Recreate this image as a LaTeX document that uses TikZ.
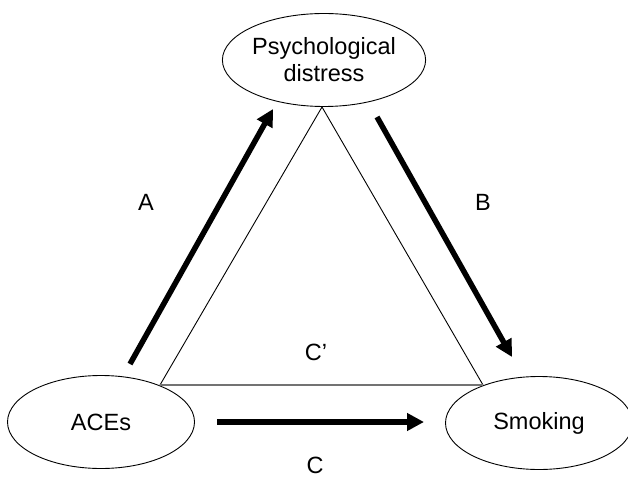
\documentclass[tikz,border=0pt]{standalone}
\usepackage{fontspec}
\setmainfont{Liberation Sans}
\usetikzlibrary{arrows.meta,shapes.geometric}
\begin{document}
\begin{tikzpicture}[x=1pt,y=-1pt,
  oval/.style={draw=black,line width=0.9pt,ellipse,minimum width=187pt,minimum height=93pt,inner sep=0pt,font=\fontsize{23.5}{27}\selectfont,align=center},
  lbl/.style={font=\fontsize{23.5}{27}\selectfont,inner sep=0pt},
  bigarrow/.style={line width=5.5pt,-{Triangle[length=17pt,width=17pt]}},
  tri/.style={line width=0.9pt,draw=black}]
\useasboundingbox (0,0) rectangle (628,478);
\node[oval] (pd) at (324,60) {Psychological\\distress};
\node[oval] (aces) at (101,422) {ACEs};
\node[oval] (smk) at (539,423) {Smoking};
\coordinate (apex) at (322,107);
\coordinate (bl) at (160,385);
\coordinate (br) at (483,385);
\draw[tri] (bl) -- (apex) -- (br);
\draw[line width=1.5pt,draw=black!55] (bl) -- (br);
\coordinate (a1) at (130,364);
\coordinate (a2) at (273,109);
\coordinate (b1) at (377,117);
\coordinate (b2) at (512,357);
\coordinate (c1) at (217,422);
\coordinate (c2) at (424,422);
\draw[bigarrow] (a1) -- (a2);
\draw[bigarrow] (b1) -- (b2);
\draw[bigarrow] (c1) -- (c2);
\node[lbl] (la) at (146,202) {A};
\node[lbl] (lb) at (483,202) {B};
\node[lbl] (lcp) at (316,352) {C’};
\node[lbl] (lc) at (315,465) {C};
\end{tikzpicture}
\end{document}
